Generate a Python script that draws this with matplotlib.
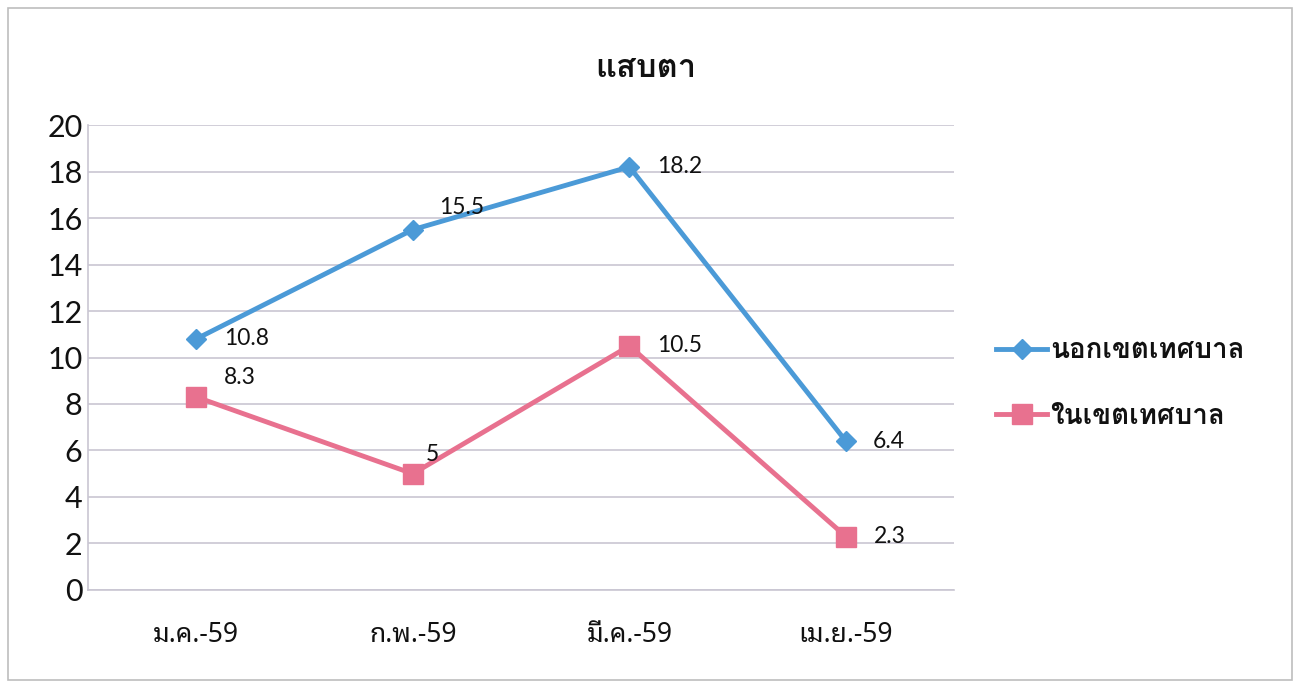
import matplotlib
matplotlib.use('Agg')
import matplotlib.pyplot as plt
from matplotlib.patches import Rectangle

# Data
months = ['ม.ค.-59', 'ก.พ.-59', 'มี.ค.-59', 'เม.ย.-59']
outside = [10.8, 15.5, 18.2, 6.4]   # นอกเขตเทศบาล
inside = [8.3, 5, 10.5, 2.3]        # ในเขตเทศบาล
series_names = ['นอกเขตเทศบาล', 'ในเขตเทศบาล']
title = 'แสบตา'
yticks = list(range(0, 21, 2))

thai = ['Noto Sans Thai Looped', 'DejaVu Sans']
thai_bold = ['Loma', 'Noto Sans Thai Looped', 'DejaVu Sans']
num = ['Lato', 'DejaVu Sans']

blue = '#4B9AD7'
pink = '#E8718F'

fig = plt.figure(figsize=(13, 6.85), dpi=100)
ax = fig.add_axes([0.0677, 0.1387, 0.6663, 0.6788])

x = range(len(months))
ax.plot(x, outside, color=blue, lw=3.5, marker='D', ms=10, label=series_names[0], zorder=3)
ax.plot(x, inside, color=pink, lw=3.5, marker='s', ms=14, label=series_names[1], zorder=3)

# data labels
offs_out = [(20, 0), (19, 16), (20, 0), (19, 0)]
offs_in = [(20, 14), (9, 14), (20, 0), (20, 0)]
for i, v in enumerate(outside):
    ax.annotate(f'{v:g}', (i, v), xytext=offs_out[i], textcoords='offset points',
                va='center', ha='left', fontsize=16.5, family=num, color='#111111')
for i, v in enumerate(inside):
    ax.annotate(f'{v:g}', (i, v), xytext=offs_in[i], textcoords='offset points',
                va='center', ha='left', fontsize=16.5, family=num, color='#111111')

ax.set_xlim(-0.5, 3.5)
ax.set_ylim(0, 20)
ax.set_yticks(yticks)
ax.set_yticklabels([str(t) for t in yticks], family=num, fontsize=22, color='#111111')
ax.set_xticks(list(x))
ax.set_xticklabels(months, family=thai, fontsize=19, color='#111111')
ax.tick_params(axis='y', length=0, pad=4)
ax.tick_params(axis='x', length=0, pad=22)
ax.grid(axis='y', color='#C9C6D2', lw=1.2)
ax.set_axisbelow(True)
for s in ['top', 'right']:
    ax.spines[s].set_visible(False)
for s in ['left', 'bottom']:
    ax.spines[s].set_color('#C9C6D2')
    ax.spines[s].set_linewidth(1.2)

fig.text(0.497, 0.9, title, ha='center', va='center', fontsize=23.5,
         fontweight='bold', family=thai_bold, color='#111111')

leg = fig.legend(loc='center left', bbox_to_anchor=(0.747, 0.44), frameon=False,
                 prop={'family': thai_bold, 'size': 20, 'weight': 'bold'},
                 handlelength=1.85, handletextpad=0.1, labelspacing=1.45)
for t in leg.get_texts():
    t.set_color('#111111')

# outer chart border
fig.patches.append(Rectangle((0.006, 0.008), 0.988, 0.98, transform=fig.transFigure,
                             fill=False, edgecolor='#BDBDBD', lw=1.2))

fig.savefig('out.png')
